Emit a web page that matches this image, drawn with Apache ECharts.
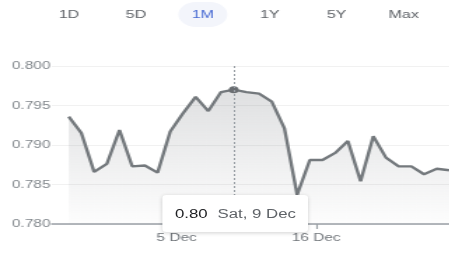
<!DOCTYPE html>
<html>
<head>
<meta charset="utf-8">
<script src="https://cdn.jsdelivr.net/npm/echarts@6/dist/echarts.min.js"></script>
<style>
  html, body { margin: 0; padding: 0; background: #ffffff; overflow: hidden; }
  /* the reference is stretched sideways, so the chart is drawn narrow and widened */
  #rate-chart { width: 321px; height: 253px; transform: scaleX(1.4); transform-origin: 0 0; }
</style>
</head>
<body>
<div id="rate-chart"></div>
<script>
var ranges = ['1D', '5D', '1M', '1Y', '5Y', 'Max'];
var activeRange = '1M';

var dates = [
  '2023-11-26T12:00', '2023-11-27T12:00', '2023-11-28T12:00', '2023-11-29T12:00',
  '2023-11-30T12:00', '2023-12-01T12:00', '2023-12-02T12:00', '2023-12-03T12:00',
  '2023-12-04T12:00', '2023-12-05T12:00', '2023-12-06T12:00', '2023-12-07T12:00',
  '2023-12-08T12:00', '2023-12-09T12:00', '2023-12-10T12:00', '2023-12-11T12:00',
  '2023-12-12T12:00', '2023-12-13T12:00', '2023-12-14T12:00', '2023-12-15T12:00',
  '2023-12-16T12:00', '2023-12-17T12:00', '2023-12-18T12:00', '2023-12-19T12:00',
  '2023-12-20T12:00', '2023-12-21T12:00', '2023-12-22T12:00', '2023-12-23T12:00',
  '2023-12-24T12:00', '2023-12-25T12:00', '2023-12-26T12:00'
];
var rates = [
  0.7936, 0.7915, 0.7866, 0.7876, 0.7919, 0.7873, 0.7874, 0.7865,
  0.7917, 0.7940, 0.7961, 0.7943, 0.7967, 0.7970, 0.7967, 0.7965,
  0.7955, 0.7921, 0.7837, 0.7881, 0.7881, 0.7890, 0.7905, 0.7854,
  0.7911, 0.7884, 0.7873, 0.7873, 0.7863, 0.7870, 0.7868
];
var tickDates = ['2023-12-05T00:00', '2023-12-16T00:00'];
var tickLabels = ['5 Dec', '16 Dec'];
var yTicks = [0.780, 0.785, 0.790, 0.795, 0.800];
var selectedIndex = 13;

var weekDays = ['Sun', 'Mon', 'Tue', 'Wed', 'Thu', 'Fri', 'Sat'];
var months = ['Jan', 'Feb', 'Mar', 'Apr', 'May', 'Jun', 'Jul', 'Aug', 'Sep', 'Oct', 'Nov', 'Dec'];

function ts(s) { return new Date(s).getTime(); }

var tickTimes = tickDates.map(ts);
var seriesData = dates.map(function (d, i) { return [ts(d), rates[i]]; });

var chart = echarts.init(document.getElementById('rate-chart'));

// range buttons along the top
var tabGraphics = [];
ranges.forEach(function (r, i) {
  var cx = 49.3 + i * 47.8;
  if (r === activeRange) {
    tabGraphics.push({
      type: 'rect',
      shape: { x: cx - 17.5, y: 2, width: 35, height: 25, r: 12.5 },
      style: { fill: '#f3f5fb' }
    });
  }
  tabGraphics.push({
    type: 'text',
    x: cx,
    y: 14.5,
    style: {
      text: r,
      align: 'center',
      verticalAlign: 'middle',
      fontFamily: 'Liberation Sans, Arial, sans-serif',
      fontSize: 11.5,
      fill: r === activeRange ? '#4a6cd4' : '#5f6368'
    }
  });
});

var option = {
  animation: false,
  graphic: tabGraphics,
  grid: { left: 37, right: 0, top: 66, bottom: 29 },
  tooltip: {
    trigger: 'axis',
    triggerOn: 'none',
    alwaysShowContent: true,
    position: [116, 195],
    backgroundColor: '#ffffff',
    borderWidth: 0,
    padding: [8, 9],
    extraCssText: 'box-shadow:0 1px 4px rgba(0,0,0,0.18);border-radius:3px;',
    axisPointer: {
      type: 'line',
      lineStyle: { color: '#9aa0a6', width: 1, type: [2, 2] },
      label: { show: false }
    },
    formatter: function (params) {
      var p = params[0];
      var d = new Date(p.value[0]);
      var when = weekDays[d.getDay()] + ', ' + d.getDate() + ' ' + months[d.getMonth()];
      return '<span style="font:12px Liberation Sans, Arial, sans-serif;color:#202124;">' +
        p.value[1].toFixed(2) + '</span>' +
        '<span style="font:12px Liberation Sans, Arial, sans-serif;color:#5f6368;margin-left:7px;">' +
        when + '</span>';
    }
  },
  xAxis: {
    type: 'value',
    min: ts('2023-11-25T04:00'),
    max: ts('2023-12-26T12:00'),
    axisLine: { show: true, lineStyle: { color: '#9aa0a6', width: 1.5 } },
    axisTick: {
      show: true,
      customValues: tickTimes,
      length: 5,
      lineStyle: { color: '#9aa0a6', width: 1.2 }
    },
    axisLabel: {
      customValues: tickTimes,
      margin: 8,
      color: '#70757a',
      fontSize: 11,
      fontFamily: 'Liberation Sans, Arial, sans-serif',
      formatter: function (v) {
        var i = tickTimes.indexOf(v);
        return i >= 0 ? tickLabels[i] : '';
      }
    },
    splitLine: { show: false }
  },
  yAxis: {
    type: 'value',
    min: yTicks[0],
    max: yTicks[yTicks.length - 1],
    interval: 0.005,
    axisLine: { show: false },
    axisTick: { show: false },
    axisLabel: {
      margin: 1,
      color: '#80868b',
      fontSize: 11,
      fontFamily: 'Liberation Sans, Arial, sans-serif',
      formatter: function (v) { return v.toFixed(3); }
    },
    splitLine: { lineStyle: { color: '#f1f1f1', width: 1 } }
  },
  series: [{
    type: 'line',
    data: seriesData,
    showSymbol: false,
    symbol: 'circle',
    symbolSize: 7,
    lineStyle: { color: '#6a6e72', width: 2.4 },
    itemStyle: { color: '#6a6e72' },
    emphasis: { scale: false, itemStyle: { color: '#6a6e72', borderWidth: 0 } },
    areaStyle: {
      color: new echarts.graphic.LinearGradient(0, 0, 0, 1, [
        { offset: 0, color: 'rgba(95,99,104,0.30)' },
        { offset: 1, color: 'rgba(95,99,104,0.02)' }
      ])
    }
  }]
};

chart.setOption(option);
chart.dispatchAction({ type: 'showTip', seriesIndex: 0, dataIndex: selectedIndex });
</script>
</body>
</html>
